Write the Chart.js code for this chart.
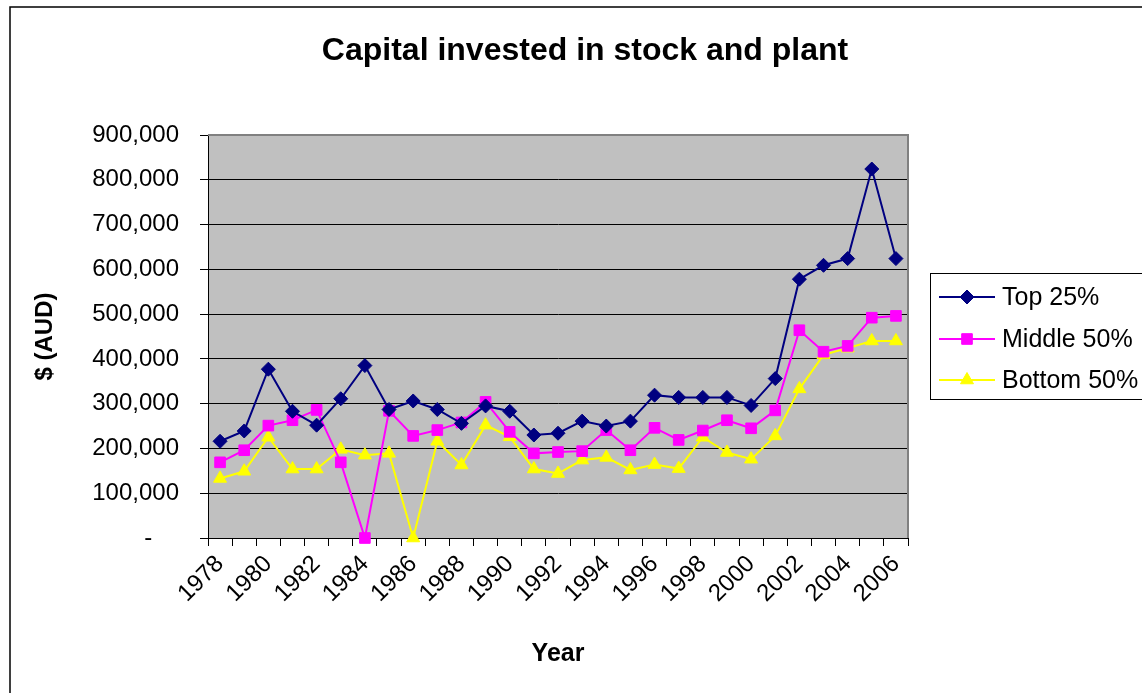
<!DOCTYPE html>
<html>
<head>
<meta charset="utf-8">
<script src="https://cdn.jsdelivr.net/npm/chart.js@4"></script>
<style>
  html, body { margin: 0; padding: 0; background: #fff; }
  #wrap { width: 1142px; height: 693px; }
</style>
</head>
<body>
<div id="wrap"><canvas id="capitalChart" width="1142" height="693"></canvas></div>
<script>
const chartTitle = 'Capital invested in stock and plant';

const years = ['1978', '1979', '1980', '1981', '1982', '1983', '1984', '1985', '1986', '1987',
    '1988', '1989', '1990', '1991', '1992', '1993', '1994', '1995', '1996', '1997',
    '1998', '1999', '2000', '2001', '2002', '2003', '2004', '2005', '2006'];

const top25 = [216000, 239000, 377000, 283000, 252000, 311000, 385000, 287000, 306000, 287000,
    256000, 295000, 283000, 230000, 234000, 261000, 250000, 261000, 319000, 314000,
    314000, 314000, 296000, 356000, 578000, 609000, 624000, 824000, 624000];

const middle50 = [169000, 196000, 251000, 263000, 286000, 169000, 0, 284000, 228000, 241000,
    258000, 304000, 237000, 189000, 192000, 194000, 241000, 196000, 246000, 219000,
    240000, 263000, 245000, 285000, 464000, 416000, 429000, 492000, 496000];

const bottom50 = [133000, 149000, 225000, 154000, 154000, 198000, 185000, 189000, 0, 216000,
    163000, 252000, 226000, 154000, 144000, 174000, 180000, 152000, 164000, 155000,
    225000, 191000, 176000, 228000, 333000, 409000, 424000, 440000, 440000];

const FONT = "'Liberation Sans', Arial, sans-serif";

const makeSeries = (label, data, color, style, radius) => ({
    label,
    data,
    borderColor: color,
    backgroundColor: color,
    borderWidth: 2,
    pointStyle: style,
    pointRadius: radius,
    pointHoverRadius: radius,
    pointBackgroundColor: color,
    pointBorderColor: color,
    pointBorderWidth: 1,
    tension: 0,
    clip: false
});

// grey plot area, its border, the outer frame, title and legend
const excelLook = {
    id: 'excelLook',
    beforeDraw(chart) {
        const { ctx, chartArea: a } = chart;
        ctx.save();
        ctx.fillStyle = '#C0C0C0';
        ctx.fillRect(a.left, a.top, a.right - a.left, a.bottom - a.top);
        ctx.restore();
    },
    beforeDatasetsDraw(chart) {
        const { ctx, chartArea: a } = chart;
        ctx.save();
        ctx.strokeStyle = '#808080';
        ctx.lineWidth = 2;
        ctx.beginPath();
        ctx.moveTo(a.left, a.top);
        ctx.lineTo(a.right, a.top);
        ctx.lineTo(a.right, a.bottom);
        ctx.stroke();
        ctx.restore();
    },
    afterDraw(chart) {
        const { ctx } = chart;
        ctx.save();
        ctx.strokeStyle = '#000';
        ctx.lineWidth = 1.5;
        ctx.strokeRect(10, 7, 1200, 720);

        ctx.fillStyle = '#000';
        ctx.font = `bold 32px ${FONT}`;
        ctx.textAlign = 'center';
        ctx.textBaseline = 'middle';
        ctx.fillText(chartTitle, 585, 51);

        ctx.lineWidth = 1;
        ctx.strokeRect(930.5, 273.5, 300, 126);

        const rows = [297, 339, 380];
        chart.data.datasets.forEach((ds, i) => {
            const y = rows[i];
            ctx.strokeStyle = ds.borderColor;
            ctx.lineWidth = 2;
            ctx.beginPath();
            ctx.moveTo(939, y);
            ctx.lineTo(995, y);
            ctx.stroke();
            ctx.fillStyle = ds.pointBackgroundColor;
            ctx.strokeStyle = ds.pointBorderColor;
            ctx.lineWidth = 1;
            Chart.helpers.drawPoint(ctx, {
                pointStyle: ds.pointStyle,
                radius: ds.pointRadius,
                rotation: 0,
                borderWidth: 1
            }, 967, y);
            ctx.fillStyle = '#000';
            ctx.font = `25px ${FONT}`;
            ctx.textAlign = 'left';
            ctx.textBaseline = 'middle';
            ctx.fillText(ds.label, 1002, y + 1);
        });
        ctx.restore();
    }
};

const ctx = document.getElementById('capitalChart').getContext('2d');

new Chart(ctx, {
    type: 'line',
    data: {
        labels: years,
        datasets: [
            makeSeries('Top 25%', top25, '#000080', 'rectRot', 7),
            makeSeries('Middle 50%', middle50, '#FF00FF', 'rect', 7.5),
            makeSeries('Bottom 50%', bottom50, '#FFFF00', 'triangle', 7.5)
        ]
    },
    options: {
        responsive: false,
        animation: false,
        events: [],
        layout: {
            padding: { left: 0, right: 234, top: 135, bottom: 0 }
        },
        plugins: {
            legend: { display: false },
            tooltip: { enabled: false },
            title: { display: false }
        },
        scales: {
            x: {
                offset: true,
                afterFit: (scale) => { scale.height = 155; },
                border: { color: '#000', width: 1 },
                grid: {
                    offset: true,
                    drawOnChartArea: false,
                    drawTicks: true,
                    tickLength: 8,
                    color: '#000'
                },
                ticks: {
                    autoSkip: false,
                    minRotation: 45,
                    maxRotation: 45,
                    padding: 4,
                    color: '#000',
                    font: { family: FONT, size: 24 },
                    callback: (value, index) => (index % 2 === 0 ? years[index] : '')
                },
                title: {
                    display: true,
                    text: 'Year',
                    color: '#000',
                    font: { family: FONT, size: 25, weight: 'bold', lineHeight: 1.2 },
                    padding: { top: 0, bottom: 24 }
                }
            },
            y: {
                min: 0,
                max: 900000,
                afterFit: (scale) => { scale.width = 208; },
                border: { color: '#000', width: 1 },
                grid: {
                    color: '#000',
                    lineWidth: 1,
                    drawTicks: true,
                    tickLength: 8
                },
                ticks: {
                    stepSize: 100000,
                    padding: 21,
                    color: '#000',
                    font: { family: FONT, size: 24 },
                    callback: (value) => (value === 0 ? '-\u00a0\u00a0\u00a0\u00a0' : value.toLocaleString('en-US'))
                },
                title: {
                    display: true,
                    text: '$ (AUD)',
                    color: '#000',
                    font: { family: FONT, size: 24, weight: 'bold', lineHeight: 1.2 },
                    padding: { top: 31, bottom: 0 }
                }
            }
        }
    },
    plugins: [excelLook]
});
</script>
</body>
</html>
